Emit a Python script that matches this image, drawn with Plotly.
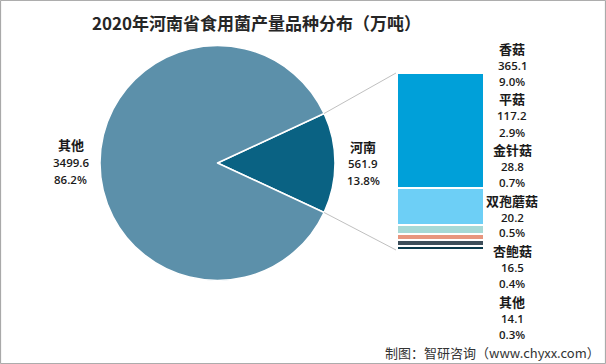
import math
import plotly.graph_objects as go

W, H = 606, 364

# ---- data ----
pie_labels = ["河南", "其他"]
pie_values = [561.9, 3499.6]
pie_pcts = ["13.8%", "86.2%"]
pie_colors = ["#0a6283", "#5c90aa"]

bar_labels = ["香菇", "平菇", "金针菇", "双孢蘑菇", "杏鲍菇", "其他"]
bar_values = [365.1, 117.2, 28.8, 20.2, 16.5, 14.1]
bar_pcts = ["9.0%", "2.9%", "0.7%", "0.5%", "0.4%", "0.3%"]
bar_colors = ["#00a0d9", "#6dcff6", "#a6d9d6", "#e8967e", "#3d4e5a", "#0b3b4d"]

title = "2020年河南省食用菌产量品种分布（万吨）"
source = "制图：智研咨询（www.chyxx.com）"

# ---- layout geometry (pixels) ----
cx, cy, r = 217.5, 163, 117.5
bar_x0, bar_x1, bar_top, bar_bot = 397, 484, 73, 250

def px(x):
    return x / W

def py(y):
    return 1 - y / H

fig = go.Figure()

total = sum(pie_values)
half_angle = 360 * pie_values[0] / total / 2
rotation = 90 - half_angle

fig.add_trace(go.Pie(
    labels=pie_labels, values=pie_values, sort=False, direction="clockwise",
    rotation=rotation, textinfo="none", hoverinfo="label+value+percent",
    marker=dict(colors=pie_colors, line=dict(color="white", width=1.5)),
    domain=dict(x=[px(cx - r), px(cx + r)], y=[py(cy + r), py(cy - r)]),
    showlegend=False,
))

# stacked bar, bottom to top
for lab, val, col in reversed(list(zip(bar_labels, bar_values, bar_colors))):
    fig.add_trace(go.Bar(
        x=[0], y=[val], name=lab, marker=dict(color=col, line=dict(color="white", width=2)),
        width=1, xaxis="x", yaxis="y", showlegend=False,
    ))

bar_total = sum(bar_values)
fig.update_layout(
    width=W, height=H, barmode="stack", bargap=0,
    margin=dict(l=0, r=0, t=0, b=0),
    paper_bgcolor="white", plot_bgcolor="rgba(0,0,0,0)",
    xaxis=dict(domain=[px(bar_x0), px(bar_x1)], range=[-0.5, 0.5], visible=False, fixedrange=True),
    yaxis=dict(domain=[py(bar_bot), py(bar_top)], range=[0, bar_total], visible=False, fixedrange=True),
)

# connector lines from pie slice edge to bar corners
a_top = math.radians(rotation)          # clockwise from 12 o'clock
a_bot = math.radians(rotation + 2 * half_angle)
p_top = (cx + r * math.sin(a_top), cy - r * math.cos(a_top))
p_bot = (cx + r * math.sin(a_bot), cy - r * math.cos(a_bot))
for (x0, y0), (x1, y1) in [(p_top, (bar_x0 - 1, bar_top)), (p_bot, (bar_x0 - 1, bar_bot))]:
    fig.add_shape(type="line", xref="paper", yref="paper",
                  x0=px(x0), y0=py(y0), x1=px(x1), y1=py(y1),
                  line=dict(color="#c0c0c0", width=1))

# frame
fig.add_shape(type="rect", xref="paper", yref="paper", x0=0.001, y0=0.001, x1=0.999, y1=0.999,
              line=dict(color="#a0a0a0", width=1))

cjk = "Noto Sans CJK SC"
num = "Open Sans"
txt_col = "#1a1a1a"

def add_label(x, y, name, value, pct, offs=(0, 17.5, 34)):
    fig.add_annotation(x=px(x), y=py(y + offs[0]), xref="paper", yref="paper",
                       text="<b>%s</b>" % name, showarrow=False,
                       font=dict(family=cjk, size=13, color=txt_col), xanchor="center", yanchor="middle")
    fig.add_annotation(x=px(x), y=py(y + offs[1]), xref="paper", yref="paper",
                       text="%.1f" % value, showarrow=False,
                       font=dict(family=num, size=11.5, color=txt_col, weight=600), xanchor="center", yanchor="middle")
    fig.add_annotation(x=px(x), y=py(y + offs[2]), xref="paper", yref="paper",
                       text=pct, showarrow=False,
                       font=dict(family=num, size=11.5, color=txt_col, weight=600), xanchor="center", yanchor="middle")

# pie labels
add_label(363, 146, pie_labels[0], pie_values[0], pie_pcts[0])
add_label(70.5, 145, pie_labels[1], pie_values[1], pie_pcts[1])

# bar labels
top_y, step = 48.5, 50.5
for i, (lab, val, pct) in enumerate(zip(bar_labels, bar_values, bar_pcts)):
    add_label(512, top_y + i * step, lab, val, pct, offs=(0, 17, 33))

fig.add_annotation(x=px(256.5), y=py(22), xref="paper", yref="paper",
                   text="<b>%s</b>" % title, showarrow=False,
                   font=dict(family=cjk, size=17, color="#262626"), xanchor="center", yanchor="middle")
fig.add_annotation(x=px(602), y=py(352), xref="paper", yref="paper",
                   text=source, showarrow=False,
                   font=dict(family=cjk, size=13, color="#333333"), xanchor="right", yanchor="middle")

fig.write_html("out.html", config={"displayModeBar": False},
               post_script="document.body.style.margin='0';document.body.style.overflow='hidden';")
